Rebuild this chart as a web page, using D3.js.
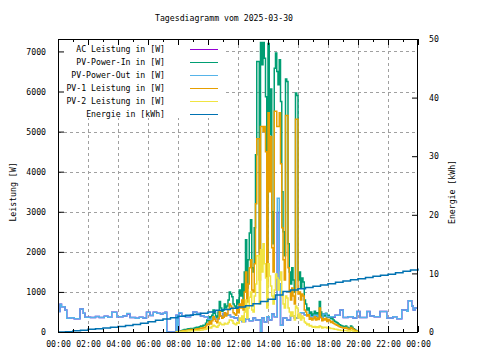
<!DOCTYPE html>
<html><head><meta charset="utf-8">
<script src="https://cdn.jsdelivr.net/npm/d3@7"></script>
<style>
body{margin:0;background:#fff}
svg{display:block}
text{font-family:"DejaVu Sans Mono","Liberation Mono",monospace;font-size:8.2px;fill:#000}
</style>
</head><body>
<svg id="c" width="480" height="360"></svg>
<script>
const title = "Tagesdiagramm vom 2025-03-30";
const yLabel = "Leistung [W]";
const y2Label = "Energie [kWh]";
const seriesNames = ["AC Leistung in [W]","PV-Power-In in [W]","PV-Power-Out in [W]","PV-1 Leistung in [W]","PV-2 Leistung in [W]","Energie in [kWh]"];
const seriesColors = ["#9400d3","#009e73","#56b4e9","#e69f00","#f0e442","#0072b2"];
const xTickLabels = ["00:00","02:00","04:00","06:00","08:00","10:00","12:00","14:00","16:00","18:00","20:00","22:00","00:00"];
const yTicks = [0,1000,2000,3000,4000,5000,6000,7000];
const y2Ticks = [0,10,20,30,40,50];

// PV-Power-Out change points [time, W]
const outPoints = [
["00:00",510],["00:08",690],["00:14",630],["00:28",550],["00:35",340],["00:50",355],["01:05",330],["01:28",575],["01:41",470],["01:48",370],
["02:10",360],["02:30",385],["02:45",360],["03:05",395],["03:20",370],["03:35",490],["03:55",380],["04:20",400],["04:35",460],["04:48",360],
["05:10",340],["05:25",370],["05:40",350],["05:54",490],["06:08",410],["06:21",490],["06:35",470],["06:50",450],["07:00",470],["07:08",490],
["07:15",0],["07:52",420],["07:58",0],["08:03",480],["08:15",400],["08:30",380],["08:50",420],["09:00",500],["09:15",460],["09:30",400],
["09:45",380],["10:00",320],["10:15",350],["10:30",330],["10:45",400],["11:00",460],["11:15",420],["11:30",380],["11:45",350],["12:00",300],
["12:15",260],["12:30",330],["12:45",280],["13:00",350],["13:10",300],["13:30",0],["13:35",350],["13:45",250],["13:55",380],["14:05",300],
["14:15",450],["14:25",380],["14:37",3340],["14:45",1200],["14:50",170],["15:00",350],["15:15",300],["15:30",400],["15:45",350],["16:00",420],
["16:10",480],["16:25",430],["16:48",380],["17:05",420],["17:20",360],["17:40",450],["17:55",380],["18:08",380],["18:28",420],["18:48",550],
["19:01",360],["19:20",380],["19:40",350],["19:55",510],["20:08",360],["20:35",510],["20:48",400],["21:05",380],["21:28",510],["21:55",350],
["22:20",380],["22:35",330],["22:55",550],["23:15",520],["23:21",780],["23:35",650],["23:41",550],["23:48",600],["24:00",600]
];
// AC Leistung change points [time, W]
const acPoints = [
["00:00",510],["00:08",690],["00:14",630],["00:28",550],["00:35",340],["00:50",355],["01:05",330],["01:28",575],["01:41",470],["01:48",370],
["02:10",360],["02:30",385],["02:45",360],["03:05",395],["03:20",370],["03:35",490],["03:55",380],["04:20",400],["04:35",450],["04:48",360],
["05:10",340],["05:25",370],["05:40",350],["05:54",490],["06:08",410],["06:21",490],["06:35",470],["06:50",450],["07:00",470],["07:08",490],
["07:15",0],["07:52",420],["07:58",0],["08:03",470],["08:15",400],["08:30",380],["08:50",420],["09:00",500],["09:15",460],["09:30",400],
["09:45",380],["10:00",320],["10:15",350],["10:30",330],["10:45",400],["11:00",460],["11:15",420],["11:30",380],["11:45",350],["12:00",300],
["12:15",260],["12:30",330],["12:45",280],["13:00",350],["13:10",300],["13:30",0],["13:35",350],["13:45",250],["13:55",380],["14:05",300],
["14:15",450],["14:25",380],["14:37",2980],["14:45",1200],["14:50",170],["15:00",350],["15:15",300],["15:30",400],["15:45",350],["16:00",420],
["16:10",480],["16:25",430],["16:48",380],["17:05",420],["17:20",360],["17:40",450],["17:55",380],["18:08",370],["18:28",420],["18:48",550],
["19:01",360],["19:20",380],["19:40",350],["19:55",510],["20:08",360],["20:35",510],["20:48",400],["21:05",380],["21:28",510],["21:55",350],
["22:20",380],["22:35",330],["22:55",550],["23:15",520],["23:21",780],["23:35",650],["23:41",550],["23:48",600],["24:00",600]
];

// PV series: 5-minute samples starting 07:50
const pvStart = "07:50";
const pvInValues = [
0,0,
10,20,30,40,50,60,60,70,80,80,90,90,
90,100,110,120,100,130,150,140,170,160,220,300,
280,380,300,420,550,470,400,350,500,760,600,520,
550,700,600,650,800,1000,950,880,700,650,600,800,
700,1050,900,1200,800,1500,2300,1100,1800,2470,2800,1600,
1500,2600,4420,6750,6750,2000,7220,6670,7220,6830,5870,1800,
7200,4920,6060,3000,2200,6580,6960,6500,6170,6790,5750,3500,
2500,1900,6310,6250,2200,1500,1200,1600,1300,1000,5960,5900,
1300,1500,1100,1350,1250,800,700,550,600,450,500,400,
450,520,400,480,420,760,500,380,450,400,470,360,
420,380,330,350,300,270,250,230,200,180,160,150,
140,130,150,120,100,90,150,120,80,60,40,20,
0,0];
const pv1Values = [
0,0,
5,10,20,25,30,40,40,45,50,55,60,60,
60,65,70,80,65,85,100,90,110,100,150,200,
180,260,200,280,380,320,270,230,340,520,400,340,
370,480,400,450,560,700,650,600,480,450,420,560,
480,700,600,800,550,1000,1500,750,1200,1600,1800,1050,
1000,1700,3200,4820,4820,1300,5130,5130,5000,5130,4500,1200,
5470,3500,4880,2100,1500,5510,5510,5130,5130,5470,4200,2600,
1800,1300,5400,5400,1600,1000,800,1100,900,700,5310,5310,
950,1000,800,950,900,550,500,400,430,320,350,300,
330,380,300,350,310,600,370,280,330,300,340,260,
310,280,240,260,220,200,180,170,150,130,120,110,
100,95,110,90,75,65,110,85,60,45,30,15,
0,0];
const pv2Values = [
0,0,
5,10,10,15,20,20,20,25,30,25,30,30,
30,35,40,40,35,45,50,50,60,60,70,100,
100,120,100,140,170,150,130,120,160,240,200,180,
180,220,200,200,240,300,300,280,220,200,180,240,
220,350,300,400,250,500,800,350,600,870,1000,550,
500,900,1200,1900,1900,700,2050,1500,2200,1700,1350,600,
1700,1400,1150,900,700,1050,1450,1350,1050,1300,1500,900,
700,600,900,850,600,500,400,500,400,300,650,600,
350,450,300,400,350,250,220,180,200,150,160,130,
120,140,110,130,110,150,130,100,120,110,120,100,
110,100,90,90,80,70,70,60,50,50,40,40,
40,35,40,30,25,25,40,35,20,15,10,5,
0,0];

// Energie change points [time, kWh]
const energyPoints = [
["00:00",0],["00:30",0.05],["01:00",0.2],["01:30",0.3],["02:00",0.45],["02:30",0.55],["03:00",0.7],["03:30",0.8],
["04:00",0.95],["04:30",1.1],["05:00",1.3],["05:30",1.5],["06:00",1.75],["06:30",2.0],["07:00",2.2],["07:30",2.45],
["08:00",2.7],["08:30",2.85],["09:00",3.0],["09:30",3.2],["10:00",3.4],["10:30",3.7],["11:00",3.85],["11:30",4.05],
["12:00",4.25],["12:30",4.5],["13:00",4.8],["13:30",5.2],["14:00",5.6],["14:30",6.3],["15:00",6.9],["15:30",7.15],
["16:00",7.4],["16:30",7.6],["17:00",7.8],["17:30",8.0],["18:00",8.25],["18:30",8.5],["19:00",8.7],["19:30",8.9],
["20:00",9.1],["20:30",9.3],["21:00",9.5],["21:30",9.7],["22:00",9.85],["22:30",10.1],["23:00",10.35],["23:30",10.6],["24:00",10.85]
];

const toMin = s => { const [h,m] = s.split(":").map(Number); return h*60+m; };
const svg = d3.select("#c");
const L = 58, R = 418, T = 39, B = 332;
const x = d3.scaleLinear().domain([0,1440]).range([L,R]);
const y = d3.scaleLinear().domain([0,7310]).range([B,T]);
const y2 = d3.scaleLinear().domain([0,50]).range([B,T]);
const xTickMins = xTickLabels.map((_,i)=>i*120);

// grid
const grid = svg.append("g").attr("stroke","#a0a0a0").attr("stroke-width",1).attr("stroke-dasharray","3,3");
xTickMins.slice(1,-1).forEach(m => grid.append("line").attr("x1",Math.round(x(m))+0.5).attr("x2",Math.round(x(m))+0.5).attr("y1",T).attr("y2",B));
yTicks.slice(1).forEach(v => grid.append("line").attr("x1",L).attr("x2",R).attr("y1",Math.round(y(v))+0.5).attr("y2",Math.round(y(v))+0.5));

const mkLine = sc => d3.line().x(d=>x(d.t)).y(d=>sc(d.v)).curve(d3.curveStepAfter);
const fromPairs = arr => arr.map(([t,v])=>({t:toMin(t),v}));
const fromPV = vals => vals.map((v,i)=>({t:toMin(pvStart)+i*5,v}));

const series = [
  {data: fromPairs(acPoints), sc: y},
  {data: fromPV(pvInValues), sc: y},
  {data: fromPairs(outPoints), sc: y},
  {data: fromPV(pv1Values), sc: y},
  {data: fromPV(pv2Values), sc: y},
  {data: fromPairs(energyPoints), sc: y2}
];
series.forEach((s,i) => {
  svg.append("path").attr("d", mkLine(s.sc)(s.data)).attr("fill","none")
    .attr("stroke", seriesColors[i]).attr("stroke-width",1.5).attr("stroke-linejoin","miter");
});

// legend (opaque)
svg.append("rect").attr("x",L+1).attr("y",T+1).attr("width",166).attr("height",78).attr("fill","#fff");
seriesNames.forEach((n,i) => {
  const ry = 49 + i*13;
  svg.append("text").attr("x",165).attr("y",ry+3).attr("text-anchor","end").text(n);
  svg.append("line").attr("x1",190).attr("x2",218).attr("y1",ry+0.5).attr("y2",ry+0.5)
    .attr("stroke",seriesColors[i]).attr("stroke-width",1);
});

// border
svg.append("rect").attr("x",L+0.5).attr("y",T+0.5).attr("width",R-L-1).attr("height",B-T).attr("fill","none").attr("stroke","#000").attr("stroke-width",1);

function styleAxis(g){ g.select(".domain").remove(); g.attr("font-family",null).attr("font-size",null); g.selectAll("line").attr("stroke","#000"); }
// x axes
svg.append("g").attr("transform",`translate(0,${B})`)
  .call(d3.axisBottom(x).tickValues(xTickMins).tickSize(-6).tickPadding(9).tickFormat((d,i)=>xTickLabels[i]))
  .call(styleAxis);
svg.append("g").attr("transform",`translate(0,${B})`)
  .call(d3.axisBottom(x).tickValues(xTickMins.slice(0,-1).map(m=>m+60)).tickSize(-3).tickFormat(""))
  .call(styleAxis);
svg.append("g").attr("transform",`translate(0,${T})`)
  .call(d3.axisTop(x).tickValues(xTickMins).tickSize(-6).tickFormat(""))
  .call(styleAxis);
svg.append("g").attr("transform",`translate(0,${T})`)
  .call(d3.axisTop(x).tickValues(xTickMins.slice(0,-1).map(m=>m+60)).tickSize(-3).tickFormat(""))
  .call(styleAxis);
// y axes
svg.append("g").attr("transform",`translate(${L},0)`)
  .call(d3.axisLeft(y).tickValues(yTicks).tickSize(-6).tickPadding(12).tickFormat(d3.format("d")))
  .call(styleAxis);
svg.append("g").attr("transform",`translate(${R},0)`)
  .call(d3.axisRight(y2).tickValues(y2Ticks).tickSize(-6).tickPadding(11).tickFormat(d3.format("d")))
  .call(styleAxis);
svg.selectAll(".tick text").attr("fill","#000");

// titles
svg.append("text").attr("x",224).attr("y",21).attr("text-anchor","middle").text(title);
svg.append("text").attr("transform","translate(16,192) rotate(-90)").attr("text-anchor","middle").text(yLabel);
svg.append("text").attr("transform","translate(455,192) rotate(-90)").attr("text-anchor","middle").text(y2Label);
</script>
</body></html>
